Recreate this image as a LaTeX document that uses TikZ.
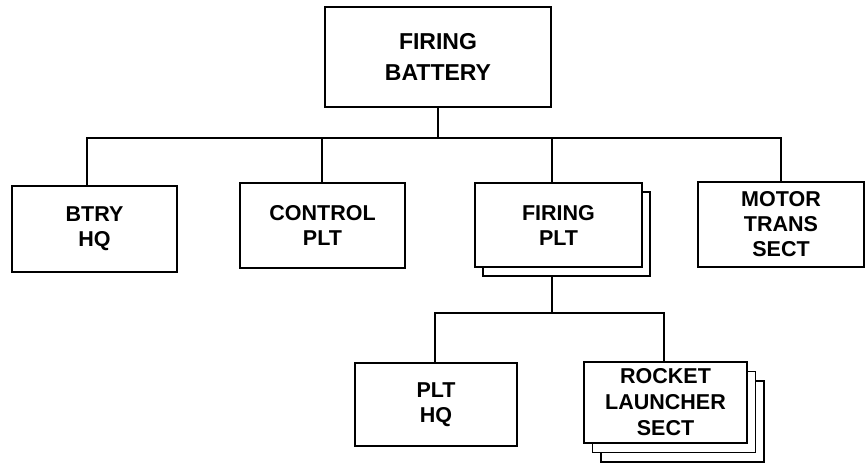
\documentclass[tikz,border=0pt]{standalone}
\usepackage{fontspec}
\setmainfont{Liberation Sans}
\begin{document}
\begin{tikzpicture}[x=1pt,y=-1pt,
  box/.style={draw=black,line width=1.9pt,fill=white,align=center,inner sep=0pt,
    font=\bfseries\fontsize{21.5}{25}\selectfont},
  topbox/.style={box,font=\bfseries\fontsize{23}{31}\selectfont},
  conn/.style={draw=black,line width=1.8pt,line join=miter}]
\useasboundingbox (0,0) rectangle (867,465);
% top
\node[topbox,minimum width=226pt,minimum height=100pt] (top) at (438,57) {FIRING\\BATTERY};
% level 1
\node[box,minimum width=165pt,minimum height=86pt] (btry) at (94.5,229) {BTRY\\HQ};
\node[box,minimum width=165pt,minimum height=85pt] (ctrl) at (322.5,225.5) {CONTROL\\PLT};
\node[box,minimum width=167pt,minimum height=84pt] (fplt2) at (566.5,234) {};
\node[box,minimum width=167pt,minimum height=84pt] (fplt) at (558.5,225) {FIRING\\PLT};
\node[box,minimum width=166pt,minimum height=85pt] (motor) at (781,224.5) {MOTOR\\TRANS\\SECT};
% level 2
\node[box,minimum width=162pt,minimum height=83pt] (plthq) at (436,404.5) {PLT\\HQ};
\node[box,minimum width=163pt,minimum height=81pt] (rock3) at (682.5,421.5) {};
\node[box,minimum width=163pt,minimum height=81pt] (rock2) at (674,412) {};
\node[box,minimum width=163pt,minimum height=81pt,font=\bfseries\fontsize{21.5}{26}\selectfont] (rock) at (665.5,402.5) {ROCKET\\LAUNCHER\\SECT};
% buses
\coordinate (b1) at (0,138);
\coordinate (b2) at (0,313);
\draw[conn] (top.south) -- (top.south |- b1);
\draw[conn] ([xshift=-7.5pt]btry.north) |- (motor.north |- b1) -- (motor.north);
\draw[conn] ([xshift=-0.5pt]ctrl.north) -- ([xshift=-0.5pt]ctrl.north |- b1);
\draw[conn] ([xshift=-6.5pt]fplt.north) -- ([xshift=-6.5pt]fplt.north |- b1);
\draw[conn] ([xshift=-6.5pt]fplt.north |- fplt2.south) -- ([xshift=-6.5pt]fplt.north |- b2);
\draw[conn] ([xshift=-1pt]plthq.north) |- ([xshift=-1.5pt]rock.north |- b2) -- ([xshift=-1.5pt]rock.north);
\end{tikzpicture}
\end{document}
